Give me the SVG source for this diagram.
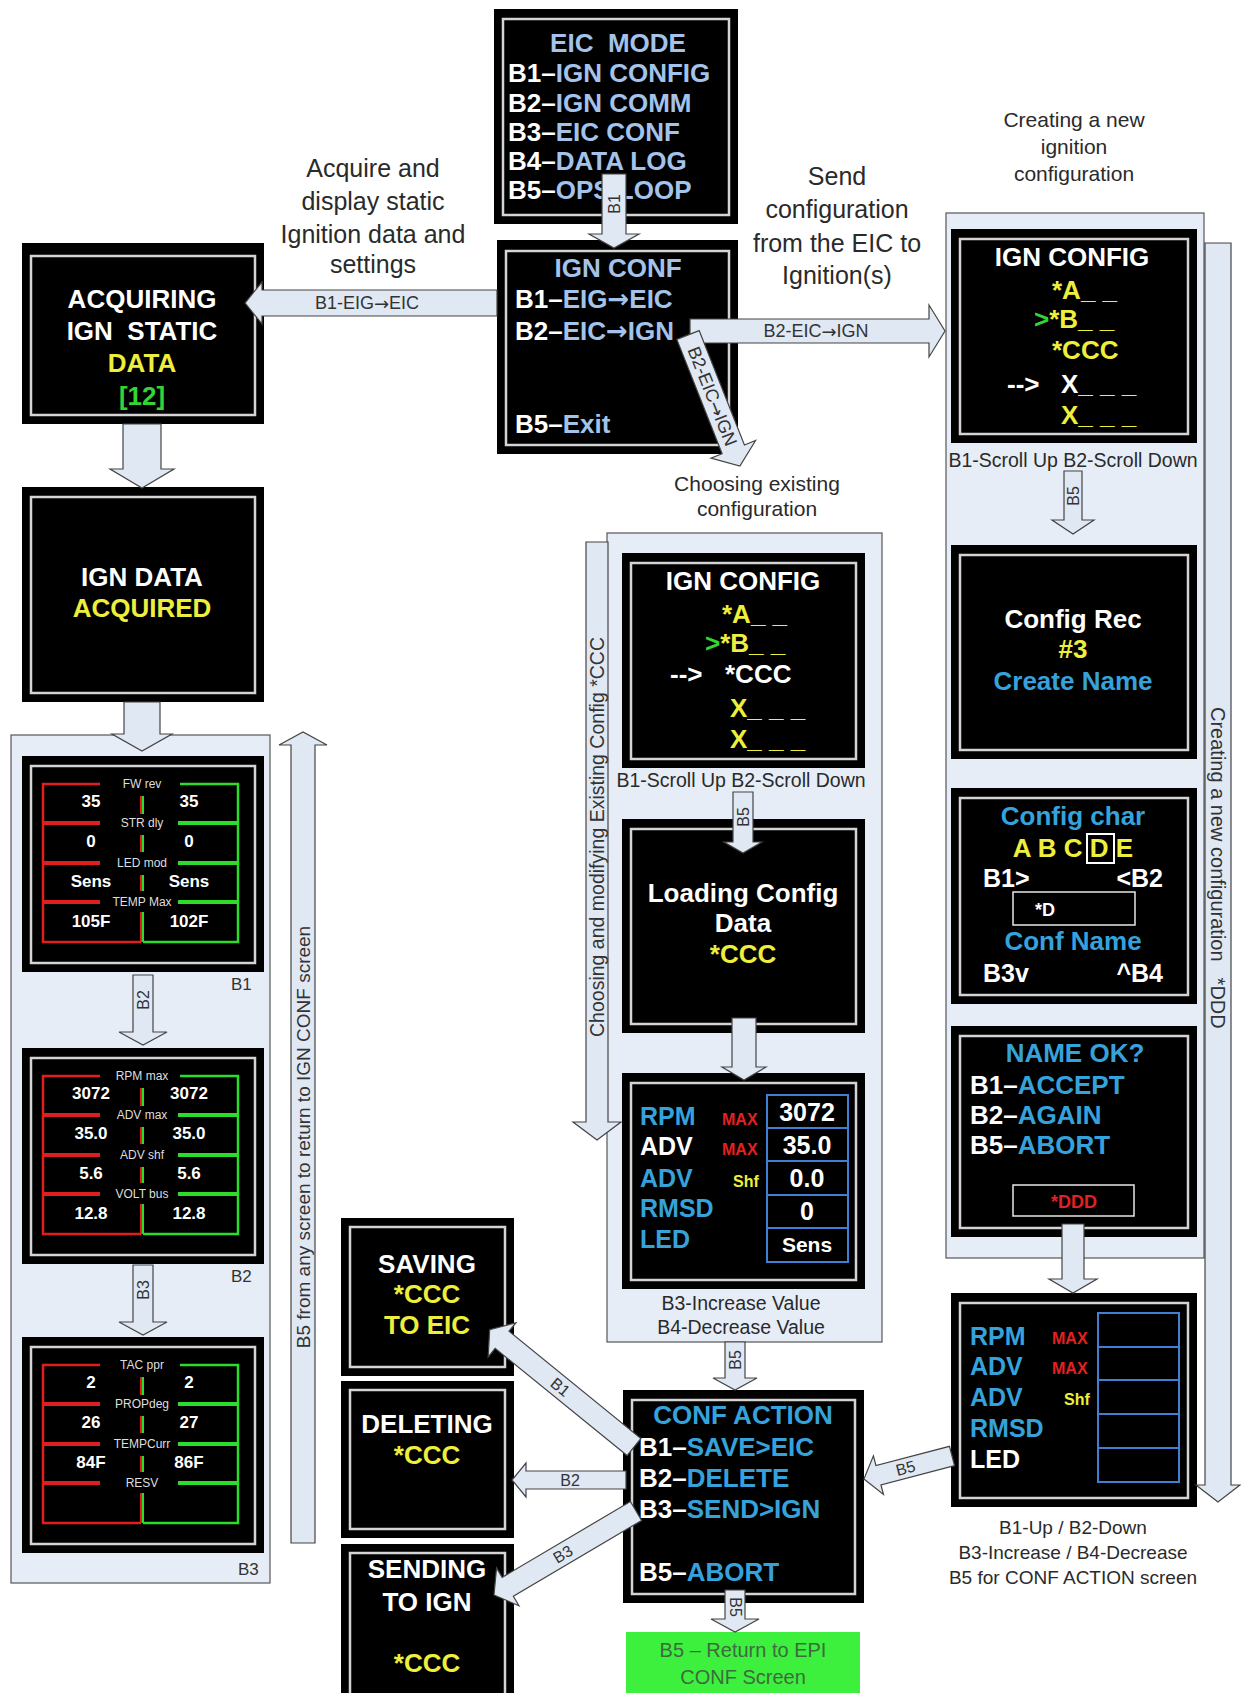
<svg xmlns="http://www.w3.org/2000/svg" width="1241" height="1693" viewBox="0 0 1241 1693">
<style>
text{font-family:"Liberation Sans",Arial,Helvetica,sans-serif}
.ar{font-family:"DejaVu Sans",sans-serif}
.scr{fill:#000}
.bd{fill:none;stroke:#d4d4d4;stroke-width:2.5}
.pnl{fill:#e7edf7;stroke:#555;stroke-width:1.2}
.arr{fill:#e0e8f3;stroke:#444;stroke-width:1.2}
.h{font-weight:bold;font-size:26px}
.h25{font-weight:bold;font-size:25px}
.m{text-anchor:middle}
.e{text-anchor:end}
.w{fill:#fff}.lb{fill:#a3c3ea}.cb{fill:#36a2dc}.y{fill:#eeee3c}.g{fill:#33d433}.r{fill:#e42020}
.cap{font-size:25px;fill:#2a2a2a;text-anchor:middle}
.cap2{font-size:21px;fill:#2a2a2a;text-anchor:middle}
.sm{font-size:19.5px;fill:#2a2a2a;text-anchor:middle}
.sm19{font-size:19px;fill:#2a2a2a;text-anchor:middle}
.al{font-size:16px;fill:#333;text-anchor:middle;dominant-baseline:central}
.al18{font-size:18px;fill:#333;text-anchor:middle;dominant-baseline:central}
.al19{font-size:19px;fill:#333;dominant-baseline:central}
.rl{stroke:#e01e1e;fill:none}
.gl{stroke:#2bdc2b;fill:none}
.hd{font-size:12px;fill:#dedede;text-anchor:middle}
.v{font-size:17px;font-weight:bold;fill:#fff;text-anchor:middle}
.tb{fill:none;stroke:#3f80d6;stroke-width:2}
.wb{fill:none;stroke:#e8e8e8;stroke-width:1.5}
.mx{font-size:16px;font-weight:bold}
.lab{font-size:17px;fill:#333}
</style>
<rect x="0" y="0" width="1241" height="1693" fill="#fff"/>

<g id="captions">
<text class="cap" x="373" y="177">Acquire and</text>
<text class="cap" x="373" y="210">display static</text>
<text class="cap" x="373" y="243">Ignition data and</text>
<text class="cap" x="373" y="273">settings</text>
<text class="cap" x="837" y="185">Send</text>
<text class="cap" x="837" y="218">configuration</text>
<text class="cap" x="837" y="252">from the EIC to</text>
<text class="cap" x="837" y="284">Ignition(s)</text>
<text class="cap2" x="1074" y="127">Creating a new</text>
<text class="cap2" x="1074" y="154">ignition</text>
<text class="cap2" x="1074" y="181">configuration</text>
<text class="cap2" x="757" y="491">Choosing existing</text>
<text class="cap2" x="757" y="516">configuration</text>
</g>

<g id="panel-left"><rect class="pnl" x="11" y="735" width="259" height="848"/></g>
<g id="panel-middle"><rect class="pnl" x="607" y="533" width="275" height="809"/></g>
<g id="panel-right"><rect class="pnl" x="946" y="213" width="258" height="1045"/></g>

<g id="eic-mode">
<rect class="scr" x="494" y="9" width="244" height="215"/>
<rect class="bd" x="503" y="19" width="226" height="196"/>
<text class="h lb m" x="618" y="52" xml:space="preserve">EIC  MODE</text>
<text class="h w" x="508" y="82">B1–<tspan class="lb">IGN CONFIG</tspan></text>
<text class="h w" x="508" y="112">B2–<tspan class="lb">IGN COMM</tspan></text>
<text class="h w" x="508" y="141">B3–<tspan class="lb">EIC CONF</tspan></text>
<text class="h w" x="508" y="170">B4–<tspan class="lb">DATA LOG</tspan></text>
<text class="h w" x="508" y="199">B5–<tspan class="lb">OPS LOOP</tspan></text>
</g>

<g id="ign-conf">
<rect class="scr" x="497" y="240" width="241" height="214"/>
<rect class="bd" x="506" y="251" width="223" height="194"/>
<text class="h lb m" x="618" y="277">IGN CONF</text>
<text class="h w" x="515" y="308">B1–<tspan class="lb">EIG<tspan class="ar">→</tspan>EIC</tspan></text>
<text class="h w" x="515" y="340">B2–<tspan class="lb">EIC<tspan class="ar">→</tspan>IGN</tspan></text>
<text class="h w" x="515" y="433">B5–<tspan class="lb">Exit</tspan></text>
</g>

<g id="acquiring">
<rect class="scr" x="22" y="243" width="242" height="181"/>
<rect class="bd" x="31" y="256" width="224" height="159"/>
<text class="h w m" x="142" y="308">ACQUIRING</text>
<text class="h w m" x="142" y="340" xml:space="preserve">IGN  STATIC</text>
<text class="h y m" x="142" y="372">DATA</text>
<text class="h g m" x="142" y="405">[12]</text>
</g>

<g id="ign-data-acquired">
<rect class="scr" x="22" y="487" width="242" height="215"/>
<rect class="bd" x="31" y="497" width="224" height="196"/>
<text class="h w m" x="142" y="586">IGN DATA</text>
<text class="h y m" x="142" y="617">ACQUIRED</text>
</g>

<g id="screen-fw" transform="translate(0,756)">
<rect class="scr" x="22" y="0" width="242" height="216"/>
<rect class="bd" x="31" y="10" width="224" height="197"/>
<path class="rl" stroke-width="2.5" d="M100,28H43V186H141"/>
<path class="gl" stroke-width="2.5" d="M180,28H238V186H143"/>
<path class="rl" stroke-width="4" d="M43,67H100M43,107H100M43,146H100"/>
<path class="gl" stroke-width="4" d="M178,67H238M178,107H238M178,146H238"/>
<path class="rl" stroke-width="2" d="M141,40V58M141,79V96M141,119V135M141,156V186"/>
<path class="gl" stroke-width="2" d="M143,40V58M143,79V96M143,119V135M143,156V186"/>
<text class="hd" x="142" y="32">FW rev</text>
<text class="hd" x="142" y="71">STR dly</text>
<text class="hd" x="142" y="111">LED mod</text>
<text class="hd" x="142" y="150">TEMP Max</text>
<text class="v" x="91" y="51">35</text><text class="v" x="189" y="51">35</text>
<text class="v" x="91" y="91">0</text><text class="v" x="189" y="91">0</text>
<text class="v" x="91" y="131">Sens</text><text class="v" x="189" y="131">Sens</text>
<text class="v" x="91" y="171">105F</text><text class="v" x="189" y="171">102F</text>
</g>
<g id="label-b1"><text class="lab" x="231" y="990">B1</text></g>

<g id="screen-rpm" transform="translate(0,1048)">
<rect class="scr" x="22" y="0" width="242" height="216"/>
<rect class="bd" x="31" y="10" width="224" height="197"/>
<path class="rl" stroke-width="2.5" d="M100,28H43V186H141"/>
<path class="gl" stroke-width="2.5" d="M180,28H238V186H143"/>
<path class="rl" stroke-width="4" d="M43,67H100M43,107H100M43,146H100"/>
<path class="gl" stroke-width="4" d="M178,67H238M178,107H238M178,146H238"/>
<path class="rl" stroke-width="2" d="M141,40V58M141,79V96M141,119V135M141,156V186"/>
<path class="gl" stroke-width="2" d="M143,40V58M143,79V96M143,119V135M143,156V186"/>
<text class="hd" x="142" y="32">RPM max</text>
<text class="hd" x="142" y="71">ADV max</text>
<text class="hd" x="142" y="111">ADV shf</text>
<text class="hd" x="142" y="150">VOLT bus</text>
<text class="v" x="91" y="51">3072</text><text class="v" x="189" y="51">3072</text>
<text class="v" x="91" y="91">35.0</text><text class="v" x="189" y="91">35.0</text>
<text class="v" x="91" y="131">5.6</text><text class="v" x="189" y="131">5.6</text>
<text class="v" x="91" y="171">12.8</text><text class="v" x="189" y="171">12.8</text>
</g>
<g id="label-b2"><text class="lab" x="231" y="1282">B2</text></g>

<g id="screen-tac" transform="translate(0,1337)">
<rect class="scr" x="22" y="0" width="242" height="216"/>
<rect class="bd" x="31" y="10" width="224" height="197"/>
<path class="rl" stroke-width="2.5" d="M100,28H43V186H141"/>
<path class="gl" stroke-width="2.5" d="M180,28H238V186H143"/>
<path class="rl" stroke-width="4" d="M43,67H100M43,107H100M43,146H100"/>
<path class="gl" stroke-width="4" d="M178,67H238M178,107H238M178,146H238"/>
<path class="rl" stroke-width="2" d="M141,40V58M141,79V96M141,119V135M141,156V186"/>
<path class="gl" stroke-width="2" d="M143,40V58M143,79V96M143,119V135M143,156V186"/>
<text class="hd" x="142" y="32">TAC ppr</text>
<text class="hd" x="142" y="71">PROPdeg</text>
<text class="hd" x="142" y="111">TEMPCurr</text>
<text class="hd" x="142" y="150">RESV</text>
<text class="v" x="91" y="51">2</text><text class="v" x="189" y="51">2</text>
<text class="v" x="91" y="91">26</text><text class="v" x="189" y="91">27</text>
<text class="v" x="91" y="131">84F</text><text class="v" x="189" y="131">86F</text>
</g>
<g id="label-b3"><text class="lab" x="238" y="1575">B3</text></g>

<g id="mid-ign-config">
<rect class="scr" x="622" y="553" width="243" height="215"/>
<rect class="bd" x="631" y="563" width="225" height="196"/>
<text class="h w m" x="743" y="590">IGN CONFIG</text>
<text class="h y" x="722" y="623">*A_ _</text>
<text class="h" x="705" y="652"><tspan class="g">&gt;</tspan><tspan class="y">*B_ _</tspan></text>
<text class="h w" x="670" y="683">--&gt;</text>
<text class="h w" x="725" y="683">*CCC</text>
<text class="h y" x="730" y="717">X_ _ _</text>
<text class="h y" x="730" y="748">X_ _ _</text>
</g>
<g id="mid-scroll-caption"><text class="sm" x="741" y="787">B1-Scroll Up B2-Scroll Down</text></g>

<g id="loading">
<rect class="scr" x="622" y="819" width="243" height="214"/>
<rect class="bd" x="631" y="829" width="225" height="195"/>
<text class="h w m" x="743" y="902">Loading Config</text>
<text class="h w m" x="743" y="932">Data</text>
<text class="h y m" x="743" y="963">*CCC</text>
</g>

<g id="mid-values">
<rect class="scr" x="622" y="1073" width="243" height="216"/>
<rect class="bd" x="631" y="1083" width="225" height="197"/>
<text class="h25 cb" x="640" y="1125">RPM</text>
<text class="h25 w" x="640" y="1155">ADV</text>
<text class="h25 cb" x="640" y="1187">ADV</text>
<text class="h25 cb" x="640" y="1217">RMSD</text>
<text class="h25 cb" x="640" y="1248">LED</text>
<text class="mx r" x="722" y="1125">MAX</text>
<text class="mx r" x="722" y="1155">MAX</text>
<text class="mx y" x="733" y="1187">Shf</text>
<rect class="tb" x="767" y="1095" width="81" height="167"/>
<path class="tb" d="M767,1128H848M767,1161H848M767,1195H848M767,1228H848"/>
<text class="h25 w m" x="807" y="1121">3072</text>
<text class="h25 w m" x="807" y="1154">35.0</text>
<text class="h25 w m" x="807" y="1187">0.0</text>
<text class="h25 w m" x="807" y="1220">0</text>
<text class="w m" x="807" y="1252" style="font-size:21px;font-weight:bold">Sens</text>
</g>
<g id="mid-value-caption">
<text class="sm" x="741" y="1310">B3-Increase Value</text>
<text class="sm" x="741" y="1334">B4-Decrease Value</text>
</g>

<g id="right-ign-config">
<rect class="scr" x="951" y="229" width="246" height="214"/>
<rect class="bd" x="960" y="239" width="228" height="195"/>
<text class="h w m" x="1072" y="266">IGN CONFIG</text>
<text class="h y" x="1052" y="299">*A_ _</text>
<text class="h" x="1034" y="328"><tspan class="g">&gt;</tspan><tspan class="y">*B_ _</tspan></text>
<text class="h y" x="1052" y="359">*CCC</text>
<text class="h w" x="1007" y="393">--&gt;</text>
<text class="h" x="1061" y="393"><tspan class="w">X</tspan><tspan class="y">_ _ _</tspan></text>
<text class="h y" x="1061" y="424">X_ _ _</text>
</g>
<g id="right-scroll-caption"><text class="sm" x="1073" y="467">B1-Scroll Up B2-Scroll Down</text></g>

<g id="config-rec">
<rect class="scr" x="951" y="545" width="246" height="214"/>
<rect class="bd" x="960" y="555" width="228" height="195"/>
<text class="h w m" x="1073" y="628">Config Rec</text>
<text class="h y m" x="1073" y="658">#3</text>
<text class="h cb m" x="1073" y="690">Create Name</text>
</g>

<g id="config-char">
<rect class="scr" x="951" y="788" width="246" height="216"/>
<rect class="bd" x="960" y="798" width="228" height="197"/>
<text class="h cb m" x="1073" y="825">Config char</text>
<text class="h y m" x="1073" y="857">A B C D E</text>
<rect x="1087" y="834" width="27" height="29" fill="none" stroke="#fff" stroke-width="2"/>
<text class="h25 w" x="983" y="887">B1&gt;</text>
<text class="h25 w e" x="1163" y="887">&lt;B2</text>
<rect class="wb" x="1013" y="892" width="122" height="33"/>
<text class="w" x="1035" y="916" style="font-size:18px;font-weight:bold">*D</text>
<text class="h cb m" x="1073" y="950">Conf Name</text>
<text class="h25 w" x="983" y="982">B3v</text>
<text class="h25 w e" x="1163" y="982">^B4</text>
</g>

<g id="name-ok">
<rect class="scr" x="951" y="1026" width="246" height="211"/>
<rect class="bd" x="960" y="1036" width="228" height="192"/>
<text class="h cb m" x="1075" y="1062">NAME OK?</text>
<text class="h w" x="970" y="1094">B1–<tspan class="cb">ACCEPT</tspan></text>
<text class="h w" x="970" y="1124">B2–<tspan class="cb">AGAIN</tspan></text>
<text class="h w" x="970" y="1154">B5–<tspan class="cb">ABORT</tspan></text>
<rect class="wb" x="1013" y="1185" width="121" height="31"/>
<text class="r m" x="1074" y="1208" style="font-size:18px;font-weight:bold">*DDD</text>
</g>

<g id="right-values">
<rect class="scr" x="951" y="1293" width="246" height="214"/>
<rect class="bd" x="960" y="1303" width="228" height="195"/>
<text class="h25 cb" x="970" y="1345">RPM</text>
<text class="h25 cb" x="970" y="1375">ADV</text>
<text class="h25 cb" x="970" y="1406">ADV</text>
<text class="h25 cb" x="970" y="1437">RMSD</text>
<text class="h25 w" x="970" y="1468">LED</text>
<text class="mx r" x="1052" y="1344">MAX</text>
<text class="mx r" x="1052" y="1374">MAX</text>
<text class="mx y" x="1064" y="1405">Shf</text>
<rect class="tb" x="1098" y="1313" width="81" height="169"/>
<path class="tb" d="M1098,1347H1179M1098,1380H1179M1098,1414H1179M1098,1448H1179"/>
</g>
<g id="right-values-caption">
<text class="sm19" x="1073" y="1534">B1-Up / B2-Down</text>
<text class="sm19" x="1073" y="1559">B3-Increase / B4-Decrease</text>
<text class="sm19" x="1073" y="1584">B5 for CONF ACTION screen</text>
</g>

<g id="conf-action">
<rect class="scr" x="623" y="1390" width="241" height="213"/>
<rect class="bd" x="632" y="1400" width="223" height="194"/>
<text class="h cb m" x="743" y="1424">CONF ACTION</text>
<text class="h w" x="639" y="1456">B1–<tspan class="cb">SAVE&gt;EIC</tspan></text>
<text class="h w" x="639" y="1487">B2–<tspan class="cb">DELETE</tspan></text>
<text class="h w" x="639" y="1518">B3–<tspan class="cb">SEND&gt;IGN</tspan></text>
<text class="h w" x="639" y="1581">B5–<tspan class="cb">ABORT</tspan></text>
</g>

<g id="saving">
<rect class="scr" x="341" y="1218" width="173" height="158"/>
<rect class="bd" x="350" y="1227" width="155" height="140"/>
<text class="h w m" x="427" y="1273">SAVING</text>
<text class="h y m" x="427" y="1303">*CCC</text>
<text class="h y m" x="427" y="1334">TO EIC</text>
</g>

<g id="deleting">
<rect class="scr" x="341" y="1381" width="173" height="157"/>
<rect class="bd" x="350" y="1390" width="155" height="139"/>
<text class="h w m" x="427" y="1433">DELETING</text>
<text class="h y m" x="427" y="1464">*CCC</text>
</g>

<g id="sending">
<rect class="scr" x="341" y="1544" width="173" height="160"/>
<rect class="bd" x="350" y="1553" width="155" height="150"/>
<text class="h w m" x="427" y="1578">SENDING</text>
<text class="h w m" x="427" y="1611">TO IGN</text>
<text class="h y m" x="427" y="1672">*CCC</text>
</g>

<g id="return-epi">
<rect x="626" y="1632" width="234" height="61" fill="#3ef03e"/>
<text class="m" x="743" y="1657" style="font-size:20px;fill:#3d6b3d">B5 – Return to EPI</text>
<text class="m" x="743" y="1684" style="font-size:20px;fill:#3d6b3d">CONF Screen</text>
</g>

<g id="connectors">
<g transform="translate(614,174) rotate(90)"><polygon class="arr" points="0,-12 60,-12 60,-25 74,0 60,25 60,12 0,12"/><text class="al" transform="translate(30,0) rotate(180)">B1</text></g>
<g transform="translate(497,303) rotate(180)"><polygon class="arr" points="0,-13 235,-13 235,-21 252,0 235,21 235,13 0,13"/><text class="al18" transform="translate(130,0) rotate(180)">B1-EIG<tspan class="ar">→</tspan>EIC</text></g>
<g transform="translate(690,331)"><polygon class="arr" points="0,-12 239,-12 239,-26 255,0 239,26 239,12 0,12"/><text class="al18" transform="translate(126,0)">B2-EIC<tspan class="ar">→</tspan>IGN</text></g>
<g transform="translate(688,335) rotate(68.4)"><polygon class="arr" points="0,-12 123,-12 123,-24 141,0 123,24 123,12 0,12"/><text class="al18" transform="translate(66,0)">B2-EIC<tspan class="ar">→</tspan>IGN</text></g>
<g transform="translate(1073,471) rotate(90)"><polygon class="arr" points="0,-9 49,-9 49,-21 63,0 49,21 49,9 0,9"/><text class="al" transform="translate(25,0) rotate(180)">B5</text></g>
<g transform="translate(1073,1224) rotate(90)"><polygon class="arr" points="0,-11 55,-11 55,-24 69,0 55,24 55,11 0,11"/></g>
<g transform="translate(1218,243) rotate(90)"><polygon class="arr" points="0,-13 1242,-13 1242,-22 1259,0 1242,22 1242,13 0,13"/><text class="al19" style="font-size:20px" x="464" y="0">Creating a new configuration<tspan dx="16">*DDD</tspan></text></g>
<g transform="translate(743,792) rotate(90)"><polygon class="arr" points="0,-10 50,-10 50,-19 61,0 50,19 50,10 0,10"/><text class="al" transform="translate(25,0) rotate(180)">B5</text></g>
<g transform="translate(744,1018) rotate(90)"><polygon class="arr" points="0,-12 49,-12 49,-22 62,0 49,22 49,12 0,12"/></g>
<g transform="translate(597,542) rotate(90)"><polygon class="arr" points="0,-11 580,-11 580,-24 598,0 580,24 580,11 0,11"/><text class="al19" style="text-anchor:middle;font-size:19.5px" transform="translate(295,0) rotate(180)">Choosing and modifying Existing Config *CCC</text></g>
<g transform="translate(735,1342) rotate(90)"><polygon class="arr" points="0,-10 36,-10 36,-22 48,0 36,22 36,10 0,10"/><text class="al" transform="translate(18,0) rotate(180)">B5</text></g>
<g transform="translate(735,1590) rotate(90)"><polygon class="arr" points="0,-10 29,-10 29,-24 42,0 29,24 29,10 0,10"/><text class="al" transform="translate(17,0)">B5</text></g>
<g transform="translate(634,1447) rotate(-140.9)"><polygon class="arr" points="0,-11 170,-11 170,-22 186,0 170,22 170,11 0,11"/><text class="al" transform="translate(95,0) rotate(180)">B1</text></g>
<g transform="translate(626,1480) rotate(180)"><polygon class="arr" points="0,-9 100,-9 100,-17 114,0 100,17 100,9 0,9"/><text class="al" transform="translate(56,0) rotate(180)">B2</text></g>
<g transform="translate(636,1511) rotate(149.4)"><polygon class="arr" points="0,-11 149,-11 149,-22 165,0 149,22 149,11 0,11"/><text class="al" transform="translate(85,0) rotate(180)">B3</text></g>
<g transform="translate(952,1456) rotate(165.4)"><polygon class="arr" points="0,-10 76,-10 76,-20 91,0 76,20 76,10 0,10"/><text class="al" transform="translate(48,0) rotate(180)">B5</text></g>
<g transform="translate(142,424) rotate(90)"><polygon class="arr" points="0,-19 45,-19 45,-32 64,0 45,32 45,19 0,19"/></g>
<g transform="translate(142,702) rotate(90)"><polygon class="arr" points="0,-18 32,-18 32,-30 49,0 32,30 32,18 0,18"/></g>
<g transform="translate(143,975) rotate(90)"><polygon class="arr" points="0,-10 57,-10 57,-24 70,0 57,24 57,10 0,10"/><text class="al" transform="translate(25,0) rotate(180)">B2</text></g>
<g transform="translate(143,1265) rotate(90)"><polygon class="arr" points="0,-10 57,-10 57,-24 70,0 57,24 57,10 0,10"/><text class="al" transform="translate(25,0) rotate(180)">B3</text></g>
<g transform="translate(303,1543) rotate(-90)"><polygon class="arr" points="0,-12 798,-12 798,-24 811,0 798,24 798,12 0,12"/><text class="al19" style="text-anchor:middle" transform="translate(406,0)">B5 from any screen to return to IGN CONF screen</text></g>
</g>
</svg>
